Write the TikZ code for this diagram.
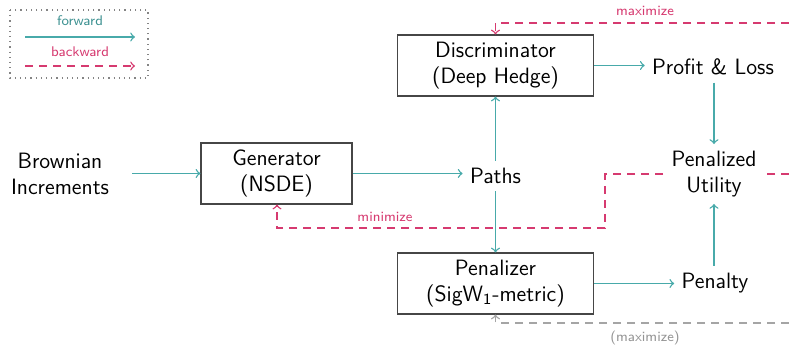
\documentclass[tikz,border=0pt]{standalone}
\usetikzlibrary{positioning}
\definecolor{fwd}{RGB}{72,170,170}
\definecolor{bwd}{RGB}{214,58,112}
\definecolor{muted}{RGB}{165,165,165}
\definecolor{boxline}{RGB}{70,70,70}
\begin{document}
\begin{tikzpicture}[x=0.5pt,y=-0.5pt,
  font=\sffamily\fontsize{11.1}{12.6}\selectfont,
  block/.style={draw=boxline,line width=0.6pt,align=center,minimum width=98pt,minimum height=30.5pt,inner sep=2pt,fill=white},
  lbl/.style={align=center,inner sep=3.5pt,fill=white},
  small/.style={font=\sffamily\fontsize{7}{8}\selectfont,inner sep=1pt},
  fwdarrow/.style={->,draw=fwd,line width=0.7pt},
  bwdarrow/.style={->,draw=bwd,line width=0.7pt,dash pattern=on 4pt off 3pt},
  mutedarrow/.style={->,draw=muted,line width=0.7pt,dash pattern=on 4pt off 3pt}]
\useasboundingbox (0,0) rectangle (789,346);

% legend
\draw[muted!80!black,line width=0.6pt,dotted] (10,10) rectangle (148,78);
\node[small,text=fwd!85!black] (lfwd) at (80,21) {forward};
\node[small,text=bwd] (lbwd) at (80,52) {backward};
\coordinate (lf0) at (25,37); \coordinate (lf1) at (135,37);
\coordinate (lb0) at (25,66); \coordinate (lb1) at (135,66);
\draw[fwdarrow] (lf0) -- (lf1);
\draw[bwdarrow] (lb0) -- (lb1);

% corner points of the backward paths
\coordinate (maxR) at (789,23);
\coordinate (maxC) at (495.5,23);
\coordinate (minR) at (789,174);
\coordinate (minA) at (605,174);
\coordinate (minB) at (605,228);
\coordinate (minC) at (277,228);
\coordinate (pmR) at (789,323);
\coordinate (pmC) at (495.5,323);

% blocks
\node[block] (disc) at (495.5,65.5) {Discriminator\\(Deep Hedge)};
\node[block,minimum width=75.5pt] (gen) at (276.5,173.5) {Generator\\(NSDE)};
\node[block] (pen) at (495.5,283.5) {Penalizer\\(SigW\textsubscript{1}-metric)};

% backward paths (text nodes drawn afterwards cover them)
\draw[bwdarrow] (minR) -- (minA) -- (minB) -- (minC) -- (gen.south -| minC);
\draw[bwdarrow] (maxR) -- (maxC) -- (disc.north -| maxC);
\draw[mutedarrow] (pmR) -- (pmC) -- (pen.south -| pmC);

% text nodes
\node[lbl] (bm) at (60,174) {Brownian\\Increments};
\node[lbl] (paths) at (495.5,176) {Paths};
\node[lbl] (pnl) at (713,67) {Profit \& Loss};
\node[lbl] (util) at (714,174) {Penalized\\Utility};
\node[lbl] (penalty) at (715,283) {Penalty};

% labels on backward paths
\node[small,text=bwd] (lmax) at (645,11) {maximize};
\node[small,text=bwd] (lmin) at (385,217) {minimize};
\node[small,text=muted!90!black] (lpmax) at (645,338) {(maximize)};

% forward arrows
\draw[fwdarrow,shorten <=8pt] (bm.east |- gen.west) -- (gen.west);
\draw[fwdarrow] (gen.east) -- (paths.west |- gen.east);
\draw[fwdarrow] (paths.north) -- (disc.south);
\draw[fwdarrow] (paths.south) -- (pen.north);
\draw[fwdarrow] (disc.east) -- (pnl.west |- disc.east);
\draw[fwdarrow] (pen.east) -- (penalty.west |- pen.east);
\draw[fwdarrow] (pnl.south -| util.north) -- (util.north);
\draw[fwdarrow] (penalty.north -| util.south) -- (util.south);
\end{tikzpicture}
\end{document}
